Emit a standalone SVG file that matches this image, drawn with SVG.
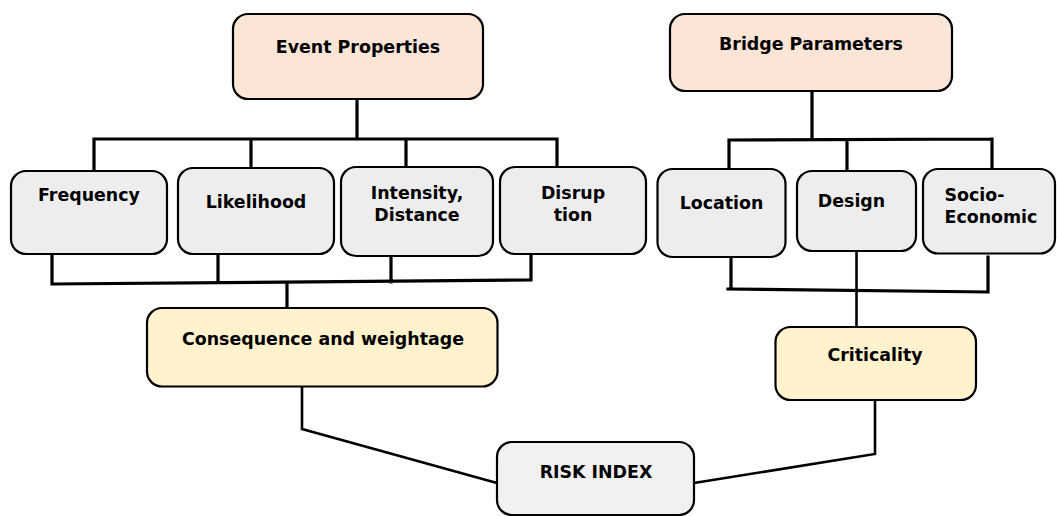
<svg xmlns="http://www.w3.org/2000/svg" width="1057" height="516" viewBox="0 0 1057 516">
<style>
.box{stroke:#000;stroke-width:2.2}
.peach{fill:#FBE5D6}
.grey{fill:#EDEDED}
.yellow{fill:#FFF2CC}
.lbl{font-family:"DejaVu Sans","Liberation Sans",sans-serif;font-weight:bold;font-size:17.4px;fill:#000;text-anchor:middle}
.left{text-anchor:start}
.wire{fill:none;stroke:#000;stroke-width:3.2;stroke-linecap:square}
.wire2{fill:none;stroke:#000;stroke-width:2.6}
</style>
<rect width="1057" height="516" fill="#fff"/>
<g id="connectors">
  <path class="wire" d="M357 99 V139 M94 139 H557 M94 139 V171 M251 139 V168 M406 139 V167 M557 139 V167"/>
  <path class="wire" d="M812 91 V139 M729 140 L992 139 M729 140 V169 M847 140 V171 M992 139 V169"/>
  <path class="wire" d="M52 254 V284 M218 254 V283 M391 256 V282 M531 254 V280 M52 284 L531 280 M287 283 V308"/>
  <path class="wire" d="M731 257 V289 M988 257 V291 M728 289 L988 292"/>
  <path class="wire2" d="M856.5 251 V327"/>
  <path class="wire2" d="M302 386 V429 L497 483"/>
  <path class="wire2" d="M694 483 L875 454 V400"/>
</g>
<g id="event-properties">
  <rect class="box peach" x="233" y="14" width="250" height="85" rx="15"/>
  <text class="lbl" x="358" y="53">Event Properties</text>
</g>
<g id="bridge-parameters">
  <rect class="box peach" x="670" y="14" width="282" height="77" rx="15"/>
  <text class="lbl" x="811" y="50">Bridge Parameters</text>
</g>
<g id="frequency">
  <rect class="box grey" x="11" y="171" width="156" height="83" rx="15"/>
  <text class="lbl" x="89" y="201">Frequency</text>
</g>
<g id="likelihood">
  <rect class="box grey" x="178" y="168" width="156" height="86" rx="15"/>
  <text class="lbl" x="256" y="208">Likelihood</text>
</g>
<g id="intensity-distance">
  <rect class="box grey" x="341" y="167" width="152" height="89" rx="15"/>
  <text class="lbl" x="417" y="199">Intensity,</text>
  <text class="lbl" x="417" y="221">Distance</text>
</g>
<g id="disruption">
  <rect class="box grey" x="500" y="167" width="146" height="87" rx="15"/>
  <text class="lbl" x="573" y="199">Disrup</text>
  <text class="lbl" x="573" y="221">tion</text>
</g>
<g id="location">
  <rect class="box grey" x="657.5" y="169" width="128" height="88" rx="15"/>
  <text class="lbl" x="721.5" y="209">Location</text>
</g>
<g id="design">
  <rect class="box grey" x="797" y="171" width="119" height="80" rx="15"/>
  <text class="lbl" x="851.5" y="207">Design</text>
</g>
<g id="socio-economic">
  <rect class="box grey" x="923" y="169" width="132" height="84.5" rx="15"/>
  <text class="lbl left" x="944.5" y="201">Socio-</text>
  <text class="lbl left" x="944.5" y="223">Economic</text>
</g>
<g id="consequence">
  <rect class="box yellow" x="147" y="308" width="350.5" height="78.5" rx="15"/>
  <text class="lbl" x="323" y="345">Consequence and weightage</text>
</g>
<g id="criticality">
  <rect class="box yellow" x="775.5" y="327" width="200.5" height="73" rx="15"/>
  <text class="lbl" x="875" y="361">Criticality</text>
</g>
<g id="risk-index">
  <rect class="box grey" x="497" y="442" width="197" height="73" rx="15" style="fill:#F1F1F1"/>
  <text class="lbl" x="596" y="478">RISK INDEX</text>
</g>
</svg>
